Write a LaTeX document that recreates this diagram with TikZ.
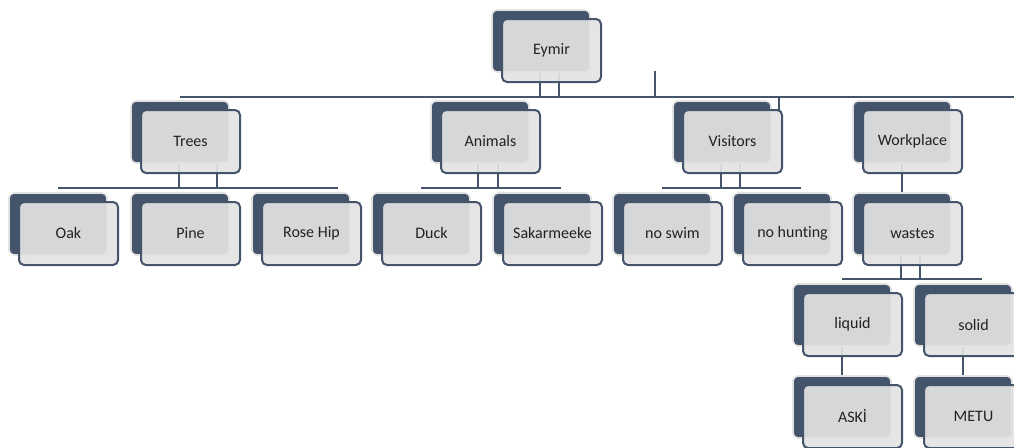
\documentclass[tikz,border=0pt]{standalone}
\usepackage{fontspec}
\setmainfont{Carlito}[Ligatures=NoCommon]
\usetikzlibrary{calc}
\definecolor{slate}{HTML}{44546A}
\definecolor{paper}{HTML}{E3E3E3}
\definecolor{halo}{HTML}{E2E2E2}
\definecolor{ink}{HTML}{222222}
\pgfdeclarelayer{bg}
\pgfsetlayers{bg,main}
\tikzset{
  backbox/.style={draw=halo, line width=1.6pt, fill=slate, rounded corners=5pt,
    minimum width=98pt, minimum height=62pt, inner sep=0pt, outer sep=0pt},
  frontbox/.style={draw=slate, line width=2pt, fill=paper, fill opacity=0.92,
    text opacity=1, text=ink, rounded corners=5pt,
    minimum width=99pt, minimum height=63pt, inner sep=0pt, outer sep=0pt,
    font=\fontsize{16}{19}\selectfont},
  conn/.style={draw=slate, line width=2.2pt}
}
% one entry: dark card behind, light card in front
\newcommand{\card}[4]{%
  \node[backbox, anchor=north west] (#1B) at (#2-10,#3-9) {};
  \node[frontbox, anchor=north west] (#1) at (#2,#3) {#4};
}
\begin{document}
\begin{tikzpicture}[x=1pt,y=-1pt]
\useasboundingbox (0,0) rectangle (1014,447);
\clip (0,0) rectangle (1014,447);

% cards
\card{eymir}{502}{19}{Eymir}
\card{trees}{141}{110}{Trees}
\card{animals}{441}{110}{Animals}
\card{visitors}{683}{110}{Visitors}
\card{work}{863}{110}{Workplace}
\card{oak}{19}{202}{Oak}
\card{pine}{141}{202}{Pine}
\card{rose}{262}{202}{Rose Hip}
\card{duck}{382}{202}{Duck}
\card{sakar}{503}{202}{Sakarmeeke}
\card{swim}{623}{202}{no swim}
\card{hunt}{743}{202}{no hunting}
\card{wastes}{863}{202}{wastes}
\card{liquid}{803}{293}{liquid}
\card{solid}{924}{293}{solid}
\card{aski}{803}{385}{ASKİ}
\card{metu}{924}{385}{METU}

% bus levels and helper points
\coordinate (bus1) at (0,97);
\coordinate (bus2) at (0,188);
\coordinate (bus3) at (0,279);
\coordinate (busend) at (1014,97);
\coordinate (stub) at (655,71);
\coordinate (eA) at ($(eymirB.south)+(-1,0)$);
\coordinate (eB) at ($(eymirB.south)+(18,0)$);
\coordinate (vT) at ($(visitors.north east)+(-3,0)$);
\coordinate (tA) at ($(treesB.south)+(-1,0)$);
\coordinate (tB) at ($(treesB.south)+(37,0)$);
\coordinate (tEnd) at ($(roseB.north)+(37,0)$);
\coordinate (aA) at ($(animalsB.south)+(-2,0)$);
\coordinate (aB) at ($(animalsB.south)+(18,0)$);
\coordinate (aEnd) at ($(sakarB.north)+(19,0)$);
\coordinate (vA) at ($(visitorsB.south)+(-1,0)$);
\coordinate (vB) at ($(visitorsB.south)+(18,0)$);
\coordinate (vEnd) at ($(huntB.north)+(19,0)$);
\coordinate (wA) at ($(wastesB.south)+(-1,0)$);
\coordinate (wB) at ($(wastesB.south)+(18,0)$);
\coordinate (wEnd) at ($(solidB.north)+(19,0)$);

\begin{pgfonlayer}{bg}
  % Eymir to the second row
  \draw[conn] (eA) -- (eA |- bus1);
  \draw[conn] (eB) -- (eB |- bus1);
  \draw[conn] (stub) -- (stub |- bus1);
  \draw[conn] (bus1 -| treesB.north) -- (busend);
  \draw[conn] (vT |- bus1) -- (vT);
  % Trees
  \draw[conn] (tA) -- (tA |- bus2);
  \draw[conn] (tB) -- (tB |- bus2);
  \draw[conn] (bus2 -| oakB.north) -- (tEnd |- bus2);
  % Animals
  \draw[conn] (aA) -- (aA |- bus2);
  \draw[conn] (aB) -- (aB |- bus2);
  \draw[conn] (bus2 -| duckB.north) -- (aEnd |- bus2);
  % Visitors
  \draw[conn] (vA) -- (vA |- bus2);
  \draw[conn] (vB) -- (vB |- bus2);
  \draw[conn] (bus2 -| swimB.north) -- (vEnd |- bus2);
  % Workplace
  \draw[conn] (workB.south) -- (wastesB.north);
  % wastes
  \draw[conn] (wA) -- (wA |- bus3);
  \draw[conn] (wB) -- (wB |- bus3);
  \draw[conn] (bus3 -| liquidB.north) -- (wEnd |- bus3);
  % leaves
  \draw[conn] (liquidB.south) -- (askiB.north);
  \draw[conn] (solidB.south) -- (metuB.north);
\end{pgfonlayer}
\end{tikzpicture}
\end{document}
